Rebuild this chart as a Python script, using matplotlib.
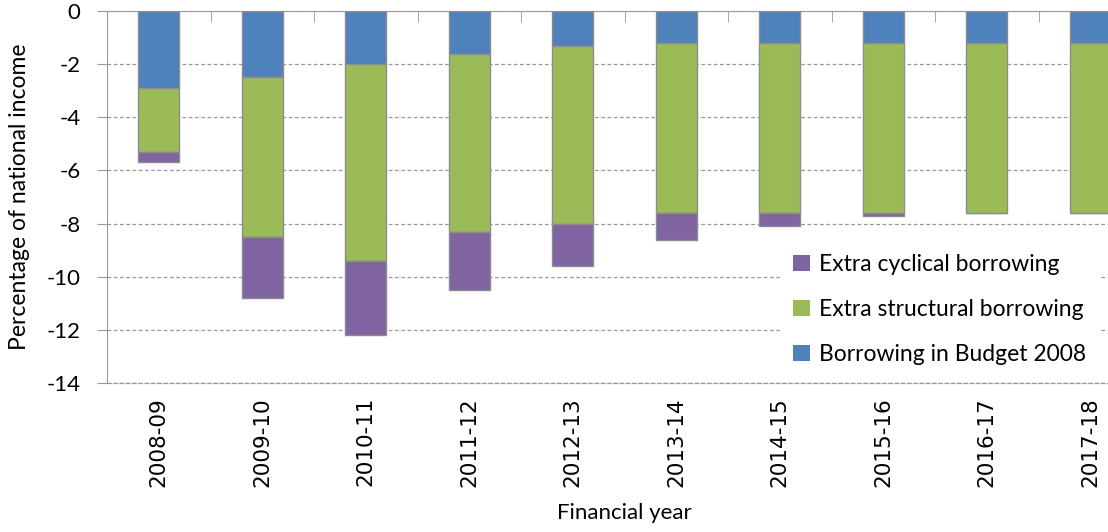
import numpy as np
import matplotlib
matplotlib.use('Agg')
import matplotlib.pyplot as plt

plt.rcParams['font.family'] = ['Lato', 'DejaVu Sans']

years = ['2008-09', '2009-10', '2010-11', '2011-12', '2012-13',
         '2013-14', '2014-15', '2015-16', '2016-17', '2017-18']
budget_2008 = [-2.9, -2.5, -2.0, -1.6, -1.3, -1.2, -1.2, -1.2, -1.2, -1.2]
extra_structural = [-2.4, -6.0, -7.4, -6.7, -6.7, -6.4, -6.4, -6.4, -6.4, -6.4]
extra_cyclical = [-0.4, -2.3, -2.8, -2.2, -1.6, -1.0, -0.5, -0.1, 0.0, 0.0]

BLUE = '#4F81BD'
GREEN = '#9BBB59'
PURPLE = '#8064A2'
EDGE = '#8c8c8c'
GRID = '#999999'
DASH = (0, (3, 2))

fig = plt.figure(figsize=(11.08, 5.32), dpi=100)
# axes runs off the right edge like the original
ax = fig.add_axes([107 / 1108, 1 - 383 / 532, (1142 - 107) / 1108, (383 - 11) / 532])

x = np.arange(len(years))
w = 0.4
b1 = np.array(budget_2008)
b2 = b1 + np.array(extra_structural)

ax.bar(x, budget_2008, w, color=BLUE, edgecolor=EDGE, linewidth=1,
       label='Borrowing in Budget 2008', zorder=3)
ax.bar(x, extra_structural, w, bottom=b1, color=GREEN, edgecolor=EDGE, linewidth=1,
       label='Extra structural borrowing', zorder=3)
ax.bar(x, extra_cyclical, w, bottom=b2, color=PURPLE, edgecolor=EDGE, linewidth=1,
       label='Extra cyclical borrowing', zorder=3)

ax.set_xlim(-0.5, len(years) - 0.5)
ax.set_ylim(-14, 0)
ax.set_yticks(np.arange(-14, 1, 2))
ax.set_yticklabels([str(v) for v in range(-14, 1, 2)], fontsize=16)
ax.yaxis.grid(True, linestyle=DASH, color=GRID, linewidth=0.9, zorder=0)

ax.set_xticks(x)
ax.set_xticklabels(years, rotation=90, fontsize=15.5, family='DejaVu Sans')
ax.set_xticks(np.arange(-0.5, len(years), 1), minor=True)
ax.tick_params(axis='x', which='major', length=0, pad=10)
ax.tick_params(axis='x', which='minor', top=True, bottom=False, direction='in',
               length=8, color=GRID)
ax.tick_params(axis='y', direction='out', length=7, color=GRID, pad=12)

ax.spines['right'].set_visible(False)
ax.spines['bottom'].set_color(GRID)
ax.spines['bottom'].set_linestyle(DASH)
ax.spines['bottom'].set_linewidth(0.9)
ax.spines['left'].set_color(GRID)
ax.spines['top'].set_color(GRID)

ax.set_ylabel('Percentage of national income', fontsize=16.5, labelpad=12)
ax.set_xlabel('Financial year', fontsize=16, labelpad=12)

handles, labels = ax.get_legend_handles_labels()
leg = fig.legend(handles[::-1], labels[::-1], loc='upper left',
                 bbox_to_anchor=(770 / 1108, 1 - 231 / 532), fontsize=16.5,
                 frameon=True, fancybox=False, edgecolor='white', framealpha=1,
                 handlelength=0.75, handleheight=0.75, handletextpad=0.4,
                 labelspacing=1.05, borderpad=0.5)
for h in leg.legend_handles:
    h.set_edgecolor('none')

fig.savefig('out.png', dpi=100)
